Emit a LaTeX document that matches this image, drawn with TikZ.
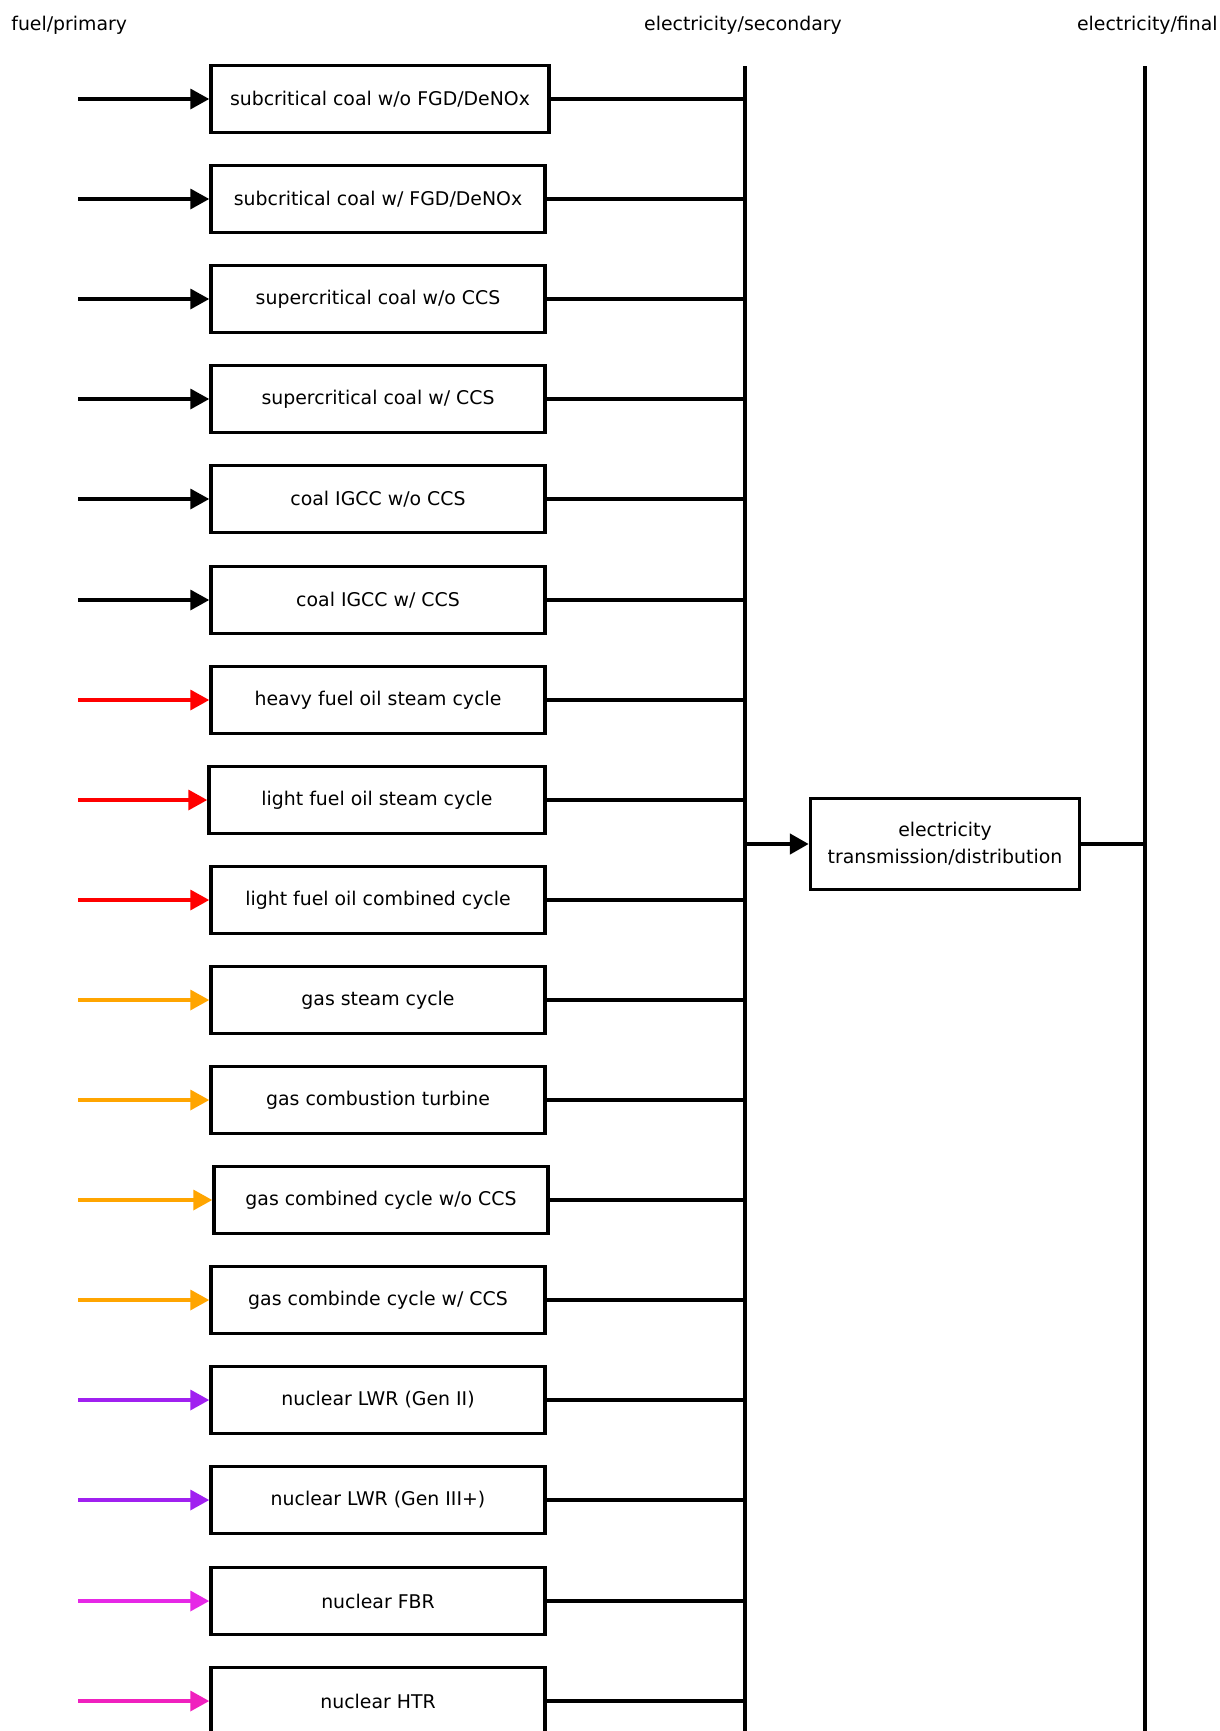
\documentclass[tikz,border=0pt]{standalone}
\usepackage{fontspec}
\setmainfont{DejaVu Sans}
\usetikzlibrary{arrows.meta, positioning}

\definecolor{oilred}{RGB}{255,0,0}
\definecolor{gasorange}{RGB}{255,165,0}
\definecolor{lwrpurple}{RGB}{160,32,240}
\definecolor{fbrmagenta}{RGB}{230,40,230}
\definecolor{htrpink}{RGB}{240,32,190}

\tikzset{
  plant/.style={draw, line width=2pt, minimum width=6.68cm, minimum height=1.34cm,
    inner sep=0pt, font=\fontsize{10.75}{15.5}\selectfont},
  feed/.style={line width=2pt, -{Triangle[length=0.38cm,width=0.4cm]}},
  link/.style={line width=2pt},
  level/.style={font=\fontsize{10.75}{13}\selectfont, inner sep=0pt}
}

\begin{document}
\begin{tikzpicture}[x=0.02cm, y=-0.02cm]
\useasboundingbox (0,0) rectangle (1220,1731);
% levels
\node[level, anchor=west] (lprim) at (11,25) {fuel/primary};
\node[level] (lsec) at (743,25) {electricity/secondary};
\node[level, anchor=east] (lfin) at (1218,25) {electricity/final};
\coordinate (src) at (78,66);
\coordinate (bustop) at (745,66);
\coordinate (busbot) at (745,1731);
\coordinate (fintop) at (1145,66);
\coordinate (finbot) at (1145,1731);
\draw[link] (bustop) -- (busbot);
\draw[link] (fintop) -- (finbot);
% conversion technologies
\node[plant, minimum width=6.76cm] (coal1) at (380,99) {subcritical coal w/o FGD/DeNOx};
\node[plant] (coal2) at (378,199) {subcritical coal w/ FGD/DeNOx};
\node[plant] (coal3) at (378,299) {supercritical coal w/o CCS};
\node[plant] (coal4) at (378,399) {supercritical coal w/ CCS};
\node[plant] (coal5) at (378,499) {coal IGCC w/o CCS};
\node[plant] (coal6) at (378,600) {coal IGCC w/ CCS};
\node[plant] (oil1) at (378,700) {heavy fuel oil steam cycle};
\node[plant, minimum width=6.72cm] (oil2) at (377,800) {light fuel oil steam cycle};
\node[plant] (oil3) at (378,900) {light fuel oil combined cycle};
\node[plant] (gas1) at (378,1000) {gas steam cycle};
\node[plant] (gas2) at (378,1100) {gas combustion turbine};
\node[plant] (gas3) at (381,1200) {gas combined cycle w/o CCS};
\node[plant] (gas4) at (378,1300) {gas combinde cycle w/ CCS};
\node[plant] (nuc1) at (378,1400) {nuclear LWR (Gen II)};
\node[plant] (nuc2) at (378,1500) {nuclear LWR (Gen III+)};
\node[plant] (nuc3) at (378,1601) {nuclear FBR};
\node[plant] (nuc4) at (378,1701) {nuclear HTR};
\node[plant, minimum width=5.38cm, minimum height=1.82cm, align=center] (grid) at (945,844)
  {electricity\\transmission/distribution};
% fuel inputs
\draw[feed] (src |- coal1) -- (coal1);
\draw[feed] (src |- coal2) -- (coal2);
\draw[feed] (src |- coal3) -- (coal3);
\draw[feed] (src |- coal4) -- (coal4);
\draw[feed] (src |- coal5) -- (coal5);
\draw[feed] (src |- coal6) -- (coal6);
\draw[feed, oilred] (src |- oil1) -- (oil1);
\draw[feed, oilred] (src |- oil2) -- (oil2);
\draw[feed, oilred] (src |- oil3) -- (oil3);
\draw[feed, gasorange] (src |- gas1) -- (gas1);
\draw[feed, gasorange] (src |- gas2) -- (gas2);
\draw[feed, gasorange] (src |- gas3) -- (gas3);
\draw[feed, gasorange] (src |- gas4) -- (gas4);
\draw[feed, lwrpurple] (src |- nuc1) -- (nuc1);
\draw[feed, lwrpurple] (src |- nuc2) -- (nuc2);
\draw[feed, fbrmagenta] (src |- nuc3) -- (nuc3);
\draw[feed, htrpink] (src |- nuc4) -- (nuc4);
% outputs to the bus
\draw[link] (coal1) -- (bustop |- coal1);
\draw[link] (coal2) -- (bustop |- coal2);
\draw[link] (coal3) -- (bustop |- coal3);
\draw[link] (coal4) -- (bustop |- coal4);
\draw[link] (coal5) -- (bustop |- coal5);
\draw[link] (coal6) -- (bustop |- coal6);
\draw[link] (oil1) -- (bustop |- oil1);
\draw[link] (oil2) -- (bustop |- oil2);
\draw[link] (oil3) -- (bustop |- oil3);
\draw[link] (gas1) -- (bustop |- gas1);
\draw[link] (gas2) -- (bustop |- gas2);
\draw[link] (gas3) -- (bustop |- gas3);
\draw[link] (gas4) -- (bustop |- gas4);
\draw[link] (nuc1) -- (bustop |- nuc1);
\draw[link] (nuc2) -- (bustop |- nuc2);
\draw[link] (nuc3) -- (bustop |- nuc3);
\draw[link] (nuc4) -- (bustop |- nuc4);
% transmission
\draw[feed, line width=2.6pt] (bustop |- grid) -- (grid);
\draw[link] (grid) -- (fintop |- grid);
\end{tikzpicture}
\end{document}
